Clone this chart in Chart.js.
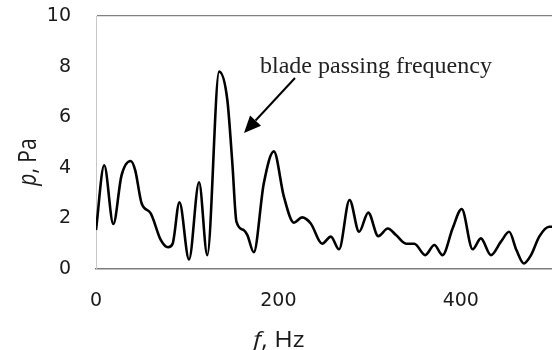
<!DOCTYPE html>
<html>
<head>
<meta charset="utf-8">
<script src="https://cdn.jsdelivr.net/npm/chart.js@4/dist/chart.umd.min.js"></script>
<style>
  html, body { margin: 0; padding: 0; background: #fff; }
  #wrap { position: relative; width: 552px; height: 350px; }
</style>
</head>
<body>
<div id="wrap"><canvas id="c"></canvas></div>
<script>
// ---- data ----
const freqs = [0, 9, 19, 28, 38, 43, 50, 60, 71, 79, 84, 91.5, 102, 113, 122, 135, 144, 149.5, 154, 162, 166, 173, 184, 195, 206, 217, 226, 235.5, 248, 257.5, 266.5, 278, 288.5, 298.5, 309.5, 320, 329, 340, 349, 361, 371, 380, 391, 401, 413, 422, 433, 444, 453, 461, 469, 477, 486, 497, 500];
const pressure = [1.54, 4.1, 1.78, 3.7, 4.27, 3.9, 2.6, 2.2, 1.15, 0.86, 1.0, 2.64, 0.38, 3.43, 0.55, 7.8, 6.68, 4.18, 1.87, 1.54, 1.34, 0.66, 3.39, 4.65, 2.86, 1.83, 2.04, 1.8, 1.0, 1.28, 0.78, 2.73, 1.47, 2.23, 1.3, 1.6, 1.34, 1.0, 1.0, 0.55, 0.95, 0.55, 1.6, 2.37, 0.78, 1.21, 0.55, 1.08, 1.47, 0.75, 0.22, 0.55, 1.28, 1.67, 1.67];
const xTickValues = [0, 200, 400];
const yTickValues = [0, 2, 4, 6, 8, 10];
const xTitle = ['f', ', Hz'];
const yTitle = ['p', ', Pa'];
const annotationText = 'blade passing frequency';

const points = freqs.map((f, i) => ({ x: f, y: pressure[i] }));

const tickFont = { family: 'DejaVu Sans', size: 19 };

function drawMixed(ctx, parts, size) {
  ctx.font = 'italic ' + size + 'px "Open Sans"';
  const w0 = ctx.measureText(parts[0]).width;
  ctx.font = size + 'px "Open Sans"';
  const w1 = ctx.measureText(parts[1]).width;
  const start = -(w0 + w1) / 2;
  ctx.textAlign = 'left';
  ctx.textBaseline = 'alphabetic';
  ctx.font = 'italic ' + size + 'px "Open Sans"';
  ctx.fillText(parts[0], start, 0);
  ctx.font = size + 'px "Open Sans"';
  ctx.fillText(parts[1], start + w0, 0);
}

const overlay = {
  id: 'overlay',
  afterDraw(chart) {
    const ctx = chart.ctx;
    ctx.save();
    ctx.fillStyle = '#1a1a1a';
    ctx.save();
    ctx.translate(279, 347);
    ctx.scale(1.2, 1);
    drawMixed(ctx, xTitle, 21);
    ctx.restore();
    ctx.save();
    ctx.translate(36, 162);
    ctx.rotate(-Math.PI / 2);
    ctx.scale(1, 1.2);
    drawMixed(ctx, yTitle, 21);
    ctx.restore();
    ctx.fillStyle = '#222';
    ctx.font = '24px "Liberation Serif"';
    ctx.textAlign = 'left';
    ctx.textBaseline = 'alphabetic';
    ctx.fillText(annotationText, 260, 73);
    const sx = 295, sy = 78, tx = 244, ty = 133;
    const ang = Math.atan2(ty - sy, tx - sx);
    const headLen = 17, headW = 7.5;
    const bx = tx - headLen * Math.cos(ang), by = ty - headLen * Math.sin(ang);
    ctx.strokeStyle = '#000';
    ctx.lineWidth = 2;
    ctx.beginPath();
    ctx.moveTo(sx, sy);
    ctx.lineTo(bx, by);
    ctx.stroke();
    ctx.fillStyle = '#000';
    ctx.beginPath();
    ctx.moveTo(tx, ty);
    ctx.lineTo(bx + headW * Math.sin(ang), by - headW * Math.cos(ang));
    ctx.lineTo(bx - headW * Math.sin(ang), by + headW * Math.cos(ang));
    ctx.closePath();
    ctx.fill();
    ctx.restore();
  }
};

new Chart(document.getElementById('c'), {
  type: 'line',
  data: {
    datasets: [{
      data: points,
      borderColor: '#000',
      borderWidth: 2.6,
      pointRadius: 0,
      fill: false,
      cubicInterpolationMode: 'monotone'
    }]
  },
  options: {
    responsive: true,
    maintainAspectRatio: false,
    animation: false,
    events: [],
    layout: { padding: { top: 16, right: 0, left: 0, bottom: 0 } },
    plugins: { legend: { display: false }, tooltip: { enabled: false } },
    scales: {
      x: {
        type: 'linear',
        min: 0,
        max: 500,
        afterBuildTicks: s => { s.ticks = xTickValues.map(v => ({ value: v })); },
        afterFit: s => { s.height = 81; s.paddingLeft = 0; s.paddingRight = 0; },
        ticks: { font: tickFont, color: '#1a1a1a', padding: 21, maxRotation: 0 },
        grid: { display: false, drawTicks: false },
        border: { display: true, color: '#7f7f7f', width: 1.6 }
      },
      y: {
        min: 0,
        max: 10,
        afterBuildTicks: s => { s.ticks = yTickValues.map(v => ({ value: v })); },
        afterFit: s => { s.width = 96; s.paddingTop = 0; s.paddingBottom = 0; },
        ticks: { font: tickFont, color: '#1a1a1a', padding: 25 },
        grid: {
          drawTicks: false,
          color: c => (c.tick && c.tick.value === 10) ? '#808080' : 'rgba(0,0,0,0)',
          lineWidth: 1.3
        },
        border: { display: true, color: '#c8c8c8', width: 1 }
      }
    }
  },
  plugins: [overlay]
});
</script>
</body>
</html>
